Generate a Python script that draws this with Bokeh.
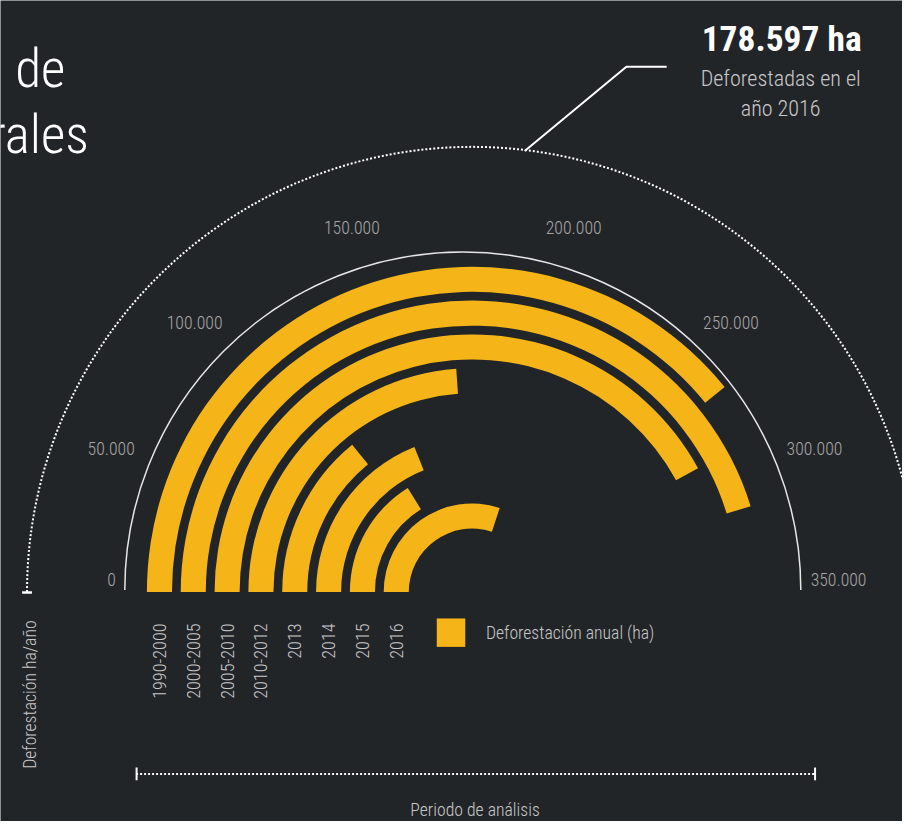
import numpy as np
from bokeh.plotting import figure
from bokeh.models import Range1d, ColumnDataSource
from bokeh.core.properties import value
from bokeh.embed import file_html
from bokeh.resources import INLINE

# ---------------- data ----------------
periods = ["1990-2000", "2000-2005", "2005-2010", "2010-2012", "2013", "2014", "2015", "2016"]
deforestation_ha = [262900, 311100, 285400, 169000, 110400, 141600, 123600, 202100]
tick_values = [0, 50000, 100000, 150000, 200000, 250000, 300000, 350000]
tick_labels = ["0", "50.000", "100.000", "150.000", "200.000", "250.000", "300.000", "350.000"]
highlight_value = "178.597 ha"
highlight_text = ["Deforestadas en el", "año 2016"]
legend_label = "Deforestación anual (ha)"
y_title = "Deforestación ha/año"
x_title = "Periodo de análisis"
title_tail = ["de", "naturales"]

# ---------------- layout / style ----------------
BG = "#222528"
YELLOW = "#f5b418"
W, H = 902, 821            # figure size in screen pixels
RW, RH = 918, 837          # design canvas (data units)
S = W / RW                 # screen px per design unit
LIGHT = value("Roboto Condensed Light")
BOLD = value("Roboto Condensed")
TICK_POS_DEG = [0, 22, 45, 73, 107, 135, 158, 180]


def fs(px):
    return f"{px * S:.1f}px"


def value_to_angle(v):
    deg = np.interp(v, tick_values, TICK_POS_DEG)
    return np.pi - np.radians(deg)


p = figure(width=W, height=H, x_range=Range1d(0, RW), y_range=Range1d(-RH, 0),
           output_backend="svg", toolbar_location=None, x_axis_type=None, y_axis_type=None,
           min_border=0, background_fill_color=BG, border_fill_color=BG, outline_line_color=None)
p.grid.visible = False

# radial bars
n = len(periods)
BAR_CX, BAR_CY = 480, -603
R_OUT0, STEP, BAR_W = 331, 34.43, 25.5
outer = [R_OUT0 - STEP * i for i in range(n)]
inner = [r - BAR_W for r in outer]
src = ColumnDataSource(dict(period=periods, value=deforestation_ha, inner=inner, outer=outer,
                            start=[value_to_angle(v) for v in deforestation_ha], end=[np.pi] * n))
p.annular_wedge(x=BAR_CX, y=BAR_CY, inner_radius="inner", outer_radius="outer",
                start_angle="start", end_angle="end", direction="anticlock",
                fill_color=YELLOW, line_color=None, source=src)

# value axis arc + labels
AX_CX, AX_CY, AX_R = 470.5, -601, 344
p.arc(x=AX_CX, y=AX_CY, radius=AX_R, start_angle=0, end_angle=np.pi,
      line_color="#e6e6e6", line_width=1.5)

lx, ly, la = [], [], []
for v in tick_values:
    a = value_to_angle(v)
    if v == tick_values[0]:
        lx.append(AX_CX - 353); ly.append(AX_CY + 11); la.append("right")
    elif v == tick_values[-1]:
        lx.append(AX_CX + 354); ly.append(AX_CY + 11); la.append("left")
    else:
        lx.append(AX_CX + 386 * np.cos(a)); ly.append(AX_CY + 386 * np.sin(a)); la.append("center")
p.text(x=lx, y=ly, text=tick_labels, text_align=la, text_baseline="middle",
       text_font=LIGHT, text_font_size=fs(18), text_color="#a6a6a6")

# outer dotted arc
p.arc(x=BAR_CX, y=BAR_CY, radius=453, start_angle=0, end_angle=np.pi,
      line_color="white", line_width=2, line_dash="2 2")
p.segment(x0=22, y0=-603.5, x1=32, y1=-603.5, line_color="white", line_width=2.5)

# annotation
p.line(x=[533.5, 637, 678], y=[-153.5, -67.5, -67.5], line_color="white", line_width=2)
p.text(x=[795], y=[-39], text=[highlight_value], text_align="center", text_baseline="alphabetic",
       text_font=BOLD, text_font_style="bold", text_font_size=fs(36), text_color="white")
p.text(x=[794, 794], y=[-79.5, -110], text=highlight_text, text_align="center",
       text_baseline="alphabetic", text_font=LIGHT, text_font_size=fs(22.5), text_color="#c8c8c8")

# category labels
cat_x = [BAR_CX - (o + i) / 2 for o, i in zip(outer, inner)]
p.text(x=cat_x, y=[-635] * n, text=periods, angle=np.pi / 2, text_align="right",
       text_baseline="middle", text_font=LIGHT, text_font_size=fs(18.5), text_color="#c8c8c8")

# legend
p.quad(left=[444], right=[473], top=[-630], bottom=[-659], fill_color=YELLOW, line_color=None)
p.text(x=[494], y=[-645], text=[legend_label], text_align="left", text_baseline="middle",
       text_font=LIGHT, text_font_size=fs(18), text_color="#c8c8c8")

# axis titles
p.text(x=[30], y=[-632], text=[y_title], angle=np.pi / 2, text_align="right",
       text_baseline="middle", text_font=LIGHT, text_font_size=fs(18), text_color="#c8c8c8")
p.segment(x0=138, y0=-788.5, x1=829, y1=-788.5, line_color="white", line_width=2, line_dash="2 2")
p.segment(x0=[138.5, 829], y0=[-782, -795], x1=[138.5, 829], y1=[-795, -782],
          line_color="white", line_width=2)
p.text(x=[483], y=[-825], text=[x_title], text_align="center", text_baseline="alphabetic",
       text_font=LIGHT, text_font_size=fs(18), text_color="#c8c8c8")

# title fragments
p.text(x=[66, 90], y=[-70, -137], text=title_tail, text_align="right", text_baseline="alphabetic",
       text_font=LIGHT, text_font_size=fs(54), text_color="white")

open("out.html", "w").write(file_html(p, INLINE))
